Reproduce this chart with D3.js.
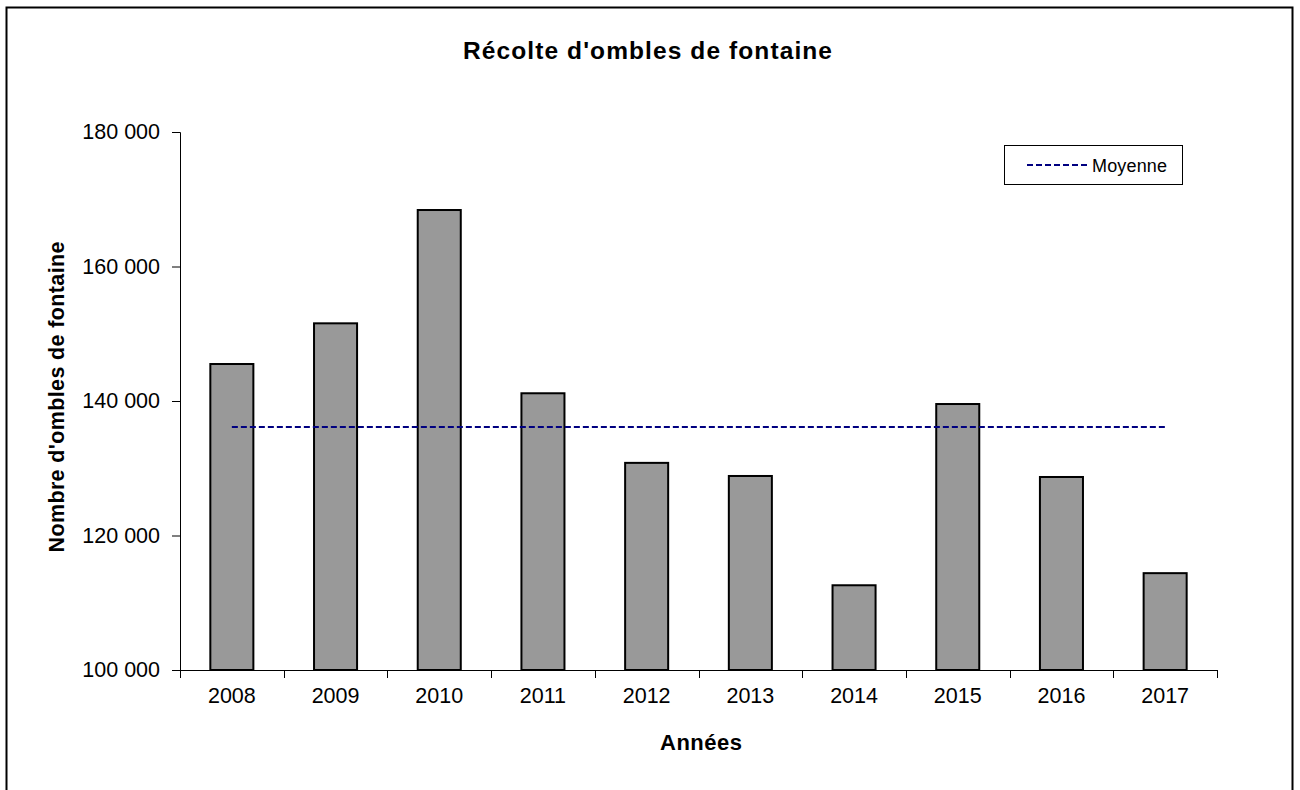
<!DOCTYPE html>
<html>
<head>
<meta charset="utf-8">
<script src="https://cdn.jsdelivr.net/npm/d3@7/dist/d3.min.js"></script>
<style>
  html, body { margin: 0; padding: 0; background: #fff; }
  svg { display: block; font-family: "Liberation Sans", Arial, sans-serif; }
</style>
</head>
<body>
<svg id="chart" width="1300" height="790"></svg>
<script>
// ---- Data ----
const years = ["2008", "2009", "2010", "2011", "2012", "2013", "2014", "2015", "2016", "2017"];
const harvest = [145500, 151550, 168400, 141150, 130800, 128850, 112600, 139550, 128700, 114400];
const yTicks = [100000, 120000, 140000, 160000, 180000];
const titleText = "Récolte d'ombles de fontaine";
const xTitle = "Années";
const yTitle = "Nombre d'ombles de fontaine";
const legendLabel = "Moyenne";

(function () {
const meanValue = d3.mean(harvest);

const svg = d3.select("#chart");

// outer frame
svg.append("rect")
  .attr("x", 6.5).attr("y", 7.5)
  .attr("width", 1286).attr("height", 800)
  .attr("fill", "none").attr("stroke", "#000").attr("stroke-width", 2);

const pLeft = 180, pRight = 1217, pTop = 132, pBottom = 670;

const x = d3.scaleBand().domain(years).range([pLeft, pRight])
  .paddingInner(0.585).paddingOuter(0.2925);
const y = d3.scaleLinear().domain([100000, 180000]).range([pBottom, pTop]);

const fmt = v => d3.format(",")(v).replace(/,/g, " ");

// bars
svg.append("g").selectAll("rect")
  .data(years)
  .join("rect")
  .attr("x", d => x(d))
  .attr("y", (d, i) => y(harvest[i]))
  .attr("width", x.bandwidth())
  .attr("height", (d, i) => y(100000) - y(harvest[i]))
  .attr("fill", "#999999")
  .attr("stroke", "#000")
  .attr("stroke-width", 2);

// y axis
const yAxis = d3.axisLeft(y).tickValues(yTicks).tickSize(8).tickPadding(12).tickFormat(fmt);
const gy = svg.append("g").attr("transform", `translate(${pLeft},0)`).call(yAxis);
gy.select(".domain").attr("stroke", "#000").attr("stroke-width", 1);
gy.selectAll(".tick line").attr("stroke", "#000");
gy.selectAll(".tick text")
  .attr("font-size", 21.5).attr("fill", "#000")
  .attr("font-family", "Liberation Sans, Arial, sans-serif");

// x axis
const gx = svg.append("g").attr("transform", `translate(0,${pBottom})`);
gx.append("line").attr("x1", pLeft).attr("x2", pRight).attr("y1", 0.5).attr("y2", 0.5)
  .attr("stroke", "#000").attr("stroke-width", 1);
const boundaries = d3.range(years.length + 1).map(i => x.range()[0] + i * x.step());
gx.selectAll("line.tk").data(boundaries).join("line")
  .attr("class", "tk")
  .attr("x1", d => Math.round(d) + 0.5).attr("x2", d => Math.round(d) + 0.5)
  .attr("y1", 0).attr("y2", 8)
  .attr("stroke", "#000").attr("stroke-width", 1);
gx.selectAll("text").data(years).join("text")
  .attr("x", d => x(d) + x.bandwidth() / 2)
  .attr("y", 33)
  .attr("text-anchor", "middle")
  .attr("font-size", 21.5)
  .text(d => d);

// mean line
const meanLine = d3.line().x(d => x(d) + x.bandwidth() / 2).y(() => y(meanValue));
svg.append("path")
  .datum([years[0], years[years.length - 1]])
  .attr("d", meanLine)
  .attr("fill", "none")
  .attr("stroke", "#000080")
  .attr("stroke-width", 2)
  .attr("stroke-dasharray", "6,3");

// title
svg.append("text")
  .attr("x", 647.5).attr("y", 59)
  .attr("text-anchor", "middle")
  .attr("font-size", 24.5).attr("font-weight", "bold")
  .attr("textLength", 369).attr("lengthAdjust", "spacing")
  .text(titleText);

// x title
svg.append("text")
  .attr("x", 701).attr("y", 749.5)
  .attr("text-anchor", "middle")
  .attr("font-size", 22).attr("font-weight", "bold")
  .attr("textLength", 82).attr("lengthAdjust", "spacing")
  .text(xTitle);

// y title
svg.append("text")
  .attr("transform", "translate(64,397) rotate(-90)")
  .attr("text-anchor", "middle")
  .attr("font-size", 21.5).attr("font-weight", "bold")
  .attr("textLength", 311).attr("lengthAdjust", "spacing")
  .text(yTitle);

// legend
const lg = svg.append("g");
lg.append("rect").attr("x", 1004.5).attr("y", 145.5).attr("width", 178).attr("height", 39)
  .attr("fill", "#fff").attr("stroke", "#000").attr("stroke-width", 1);
lg.append("line").attr("x1", 1027).attr("x2", 1087).attr("y1", 165).attr("y2", 165)
  .attr("stroke", "#000080").attr("stroke-width", 2).attr("stroke-dasharray", "6,3");
lg.append("text").attr("x", 1092).attr("y", 171.5)
  .attr("font-size", 18)
  .attr("textLength", 75).attr("lengthAdjust", "spacing")
  .text(legendLabel);
})();
</script>
</body>
</html>
